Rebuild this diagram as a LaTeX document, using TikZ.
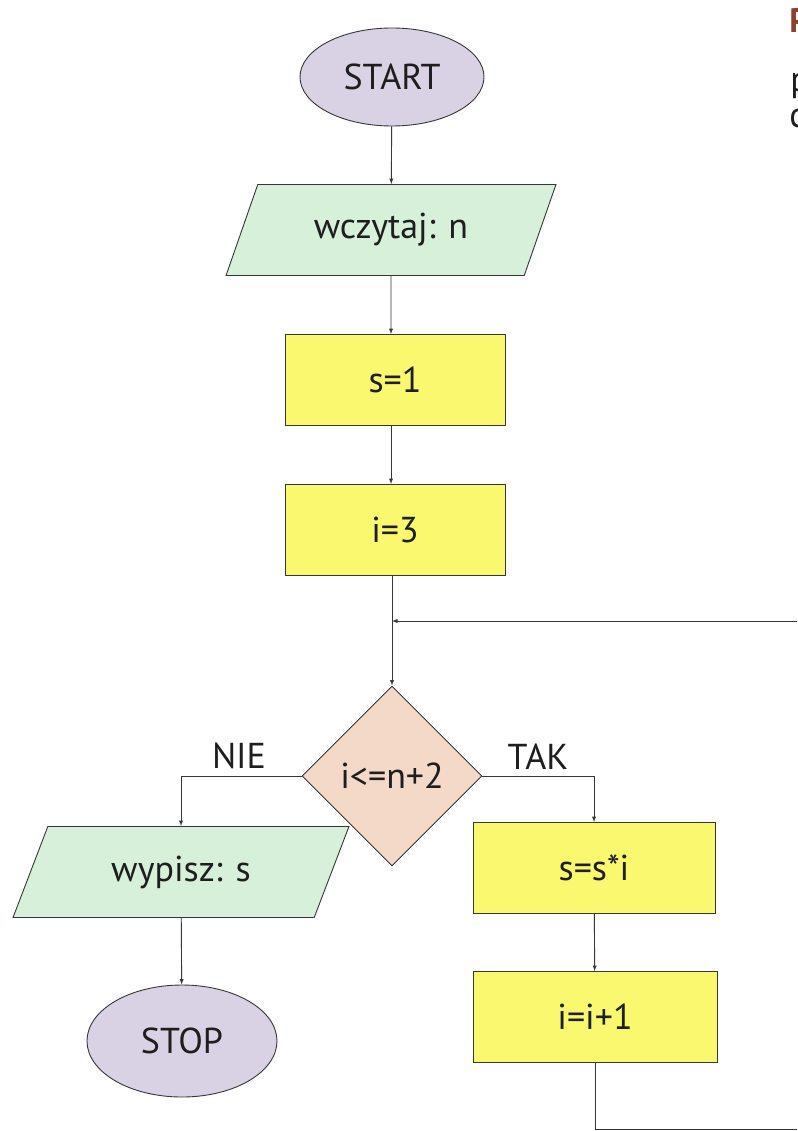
\documentclass[tikz,border=0pt]{standalone}
\usepackage{fontspec}
\setmainfont{PT Sans}
\usepackage{tikz}
\usetikzlibrary{shapes.geometric}

\definecolor{termfill}{RGB}{217,210,228}
\definecolor{iofill}{RGB}{214,240,218}
\definecolor{opfill}{RGB}{250,248,110}
\definecolor{condfill}{RGB}{244,216,200}
\definecolor{linecol}{RGB}{55,55,55}
\definecolor{textcol}{RGB}{30,30,30}
\definecolor{headcol}{RGB}{140,65,45}

\tikzset{
    txt/.style={font=\fontsize{36}{42}\selectfont, text=textcol},
    terminal/.style={txt, ellipse, draw=linecol, fill=termfill, inner sep=0pt},
    inout/.style={txt, trapezium, trapezium left angle=61, trapezium right angle=119,
        trapezium stretches=true, draw=linecol, fill=iofill,
        minimum width=330pt, minimum height=91pt, inner sep=0pt},
    process/.style={txt, rectangle, draw=linecol, fill=opfill, minimum height=91pt, inner sep=0pt},
    decision/.style={txt, diamond, aspect=1, draw=linecol, fill=condfill,
        minimum width=180pt, minimum height=180pt, inner sep=0pt},
}

\begin{document}
\begin{tikzpicture}[x=1pt, y=-1pt, line width=0.9pt, draw=linecol, >=latex]
        \clip (0, 0) rectangle (797, 1131);
        \fill[white] (0, 0) rectangle (797, 1131);
        % Nodes
        \node[terminal, minimum width=184pt, minimum height=98pt] (start) at (392, 77) {START};
        \node[inout] (read) at (391, 230) {wczytaj: n};
        \node[process, minimum width=220pt] (s1) at (395, 380) {s=1};
        \node[process, minimum width=220pt] (i3) at (395, 530) {i=3};
        \coordinate (merge) at (392, 621);
        \node[decision] (cond) at (392, 776) {i<=n+2};
        \node[txt] (nie) at (239, 756) {NIE};
        \node[txt] (tak) at (538, 757) {TAK};
        \node[inout, minimum width=336pt] (out) at (181, 872) {wypisz: s};
        \node[terminal, minimum width=190pt, minimum height=112pt] (stop) at (182, 1041) {STOP};
        \node[process, minimum width=242pt] (mult) at (594, 868) {s=s*i};
        \node[process, minimum width=244pt] (inc) at (595, 1017) {i=i+1};
        \coordinate (loopcorner) at (830, 1129);
        % text of the next column, cut by the page edge
        \node[anchor=base west, inner sep=0pt, font=\bfseries\fontsize{34}{40}\selectfont, text=headcol] (head) at (789, 33) {P};
        \node[txt, anchor=base west, inner sep=0pt] (frag1) at (790, 92) {p};
        \node[txt, anchor=base west, inner sep=0pt] (frag2) at (789, 128) {c};
        % Edges
        \draw[->] (start) -- (read);
        \draw[->] (read) -- (s1.north -| read);
        \draw[->] (s1.south -| read) -- (i3.north -| read);
        \draw (i3.south -| merge) -- (merge);
        \draw[->] (merge) -- (cond);
        \draw[->] (cond.west) -| (out);
        \draw[->] (cond.east) -| (mult);
        \draw[->] (mult) -- (inc);
        \draw[->] (out) -- (stop);
        \draw[->] (inc) |- (loopcorner) |- (merge);
    \end{tikzpicture}
\end{document}
